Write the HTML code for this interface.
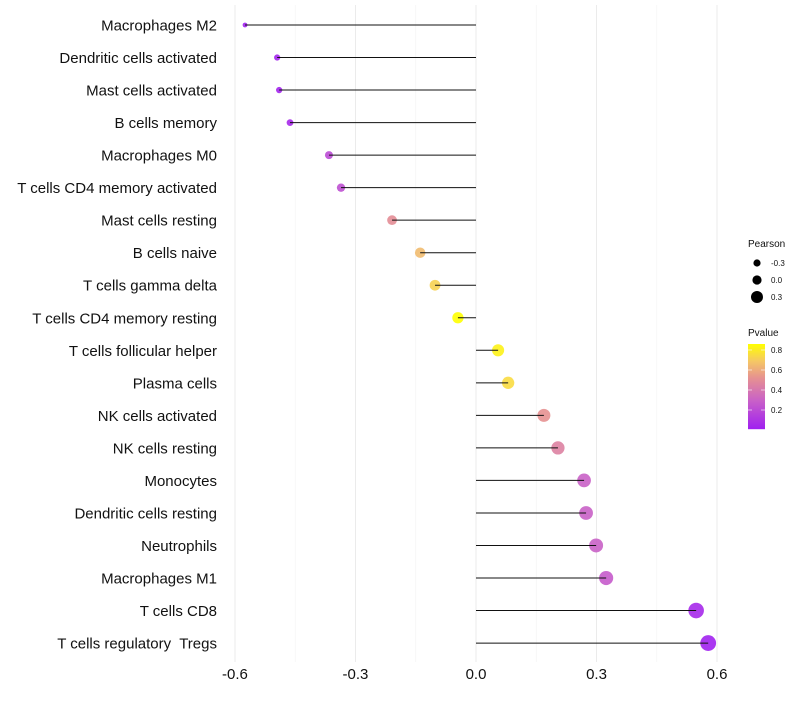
<!DOCTYPE html>
<html><head><meta charset="utf-8"><style>
body{margin:0;background:#fff;font-family:"Liberation Sans",sans-serif}
text{white-space:pre}
</style></head><body>
<svg id="chart" width="800" height="700" xmlns="http://www.w3.org/2000/svg"></svg>
<script>
const categories=["Macrophages M2","Dendritic cells activated","Mast cells activated","B cells memory","Macrophages M0","T cells CD4 memory activated","Mast cells resting","B cells naive","T cells gamma delta","T cells CD4 memory resting","T cells follicular helper","Plasma cells","NK cells activated","NK cells resting","Monocytes","Dendritic cells resting","Neutrophils","Macrophages M1","T cells CD8","T cells regulatory  Tregs"];
const pearson=[-0.575,-0.495,-0.49,-0.463,-0.366,-0.336,-0.209,-0.139,-0.102,-0.045,0.055,0.08,0.169,0.204,0.269,0.274,0.299,0.324,0.548,0.578];
const pvalue=[0.02,0.03,0.03,0.05,0.2,0.22,0.5,0.65,0.72,0.86,0.82,0.75,0.52,0.45,0.3,0.3,0.3,0.27,0.05,0.02];
const xTicks=[-0.6,-0.3,0.0,0.3,0.6];
const xTickLabels=["-0.6","-0.3","0.0","0.3","0.6"];
const legendSizes=[-0.3,0.0,0.3];
const legendP=[0.8,0.6,0.4,0.2];

const svg=document.getElementById('chart');
const NS="http://www.w3.org/2000/svg";
function el(t,a){const e=document.createElementNS(NS,t);for(const k in a)e.setAttribute(k,a[k]);svg.appendChild(e);return e;}
const x=v=>476+v*401.7;
const y=i=>25+i*32.53;
const r=v=>Math.sqrt(Math.max(2,34+49*v));
const pMin=0.01,pMax=0.86;
const stops=[[0,[160,32,240]],[0.33,[200,96,200]],[0.6,[230,145,145]],[0.8,[245,200,100]],[1,[255,255,0]]];
function col(p){let t=Math.max(0,Math.min(1,(p-pMin)/(pMax-pMin)));for(let i=1;i<stops.length;i++){if(t<=stops[i][0]){const a=stops[i-1],b=stops[i];const f=(t-a[0])/(b[0]-a[0]);const c=a[1].map((v,j)=>Math.round(v+(b[1][j]-v)*f));return `rgb(${c})`;}}return 'rgb(255,255,0)';}

for(let i=0;i<xTicks.length;i++){
  const g=el('line',{x1:x(xTicks[i]),x2:x(xTicks[i]),y1:5,y2:662,stroke:'#ebebeb','stroke-width':1});
  
  
  if(i<xTicks.length-1){const m=(xTicks[i]+xTicks[i+1])/2;
  const g2=el('line',{x1:x(m),x2:x(m),y1:5,y2:662,stroke:'#f3f3f3','stroke-width':0.6});
  
  }
  const t=el('text',{x:x(xTicks[i]),y:679,'text-anchor':'middle','font-size':15,fill:'#111'});
  t.textContent=xTickLabels[i];
  
  
}
categories.forEach((c,i)=>{
  const t=el('text',{x:217,y:y(i)+5.5,'text-anchor':'end','font-size':15,fill:'#111'});
  t.textContent=c;
  
  
  const p=el('circle',{cx:x(pearson[i]),cy:y(i),r:r(pearson[i]),fill:col(pvalue[i]),'fill-opacity':0.9});
  
  
  const l=el('line',{x1:x(0),x2:x(pearson[i]),y1:y(i),y2:y(i),stroke:'#111','stroke-width':1});
  
  
});
let t=el('text',{x:748,y:247,'font-size':10,fill:'#111'});t.textContent='Pearson';


const lr=[3.6,4.6,6];
legendSizes.forEach((s,i)=>{
  const cy=263+i*17;
  const c=el('circle',{cx:757,cy:cy,r:lr[i],fill:'#000'});
  
  
  const tt=el('text',{x:771,y:cy+3,'font-size':8,fill:'#111'});tt.textContent=s.toFixed(1);
  
  
});
t=el('text',{x:748,y:336,'font-size':10,fill:'#111'});t.textContent='Pvalue';


const py=p=>344+(pMax-p)/(pMax-pMin)*85;
for(let k=0;k<85;k++){const p=pMax-(k+0.5)/85*(pMax-pMin);
  const rr=el('rect',{x:748,y:344+k,width:17,height:1.2,fill:col(p)});
  
  }
legendP.forEach(p=>{
  const tt=el('text',{x:771,y:py(p)+3,'font-size':8,fill:'#111'});tt.textContent=p.toFixed(1);
  
  
  el('line',{x1:748,x2:752,y1:py(p),y2:py(p),stroke:'#fff','stroke-width':0.6});
  el('line',{x1:761,x2:765,y1:py(p),y2:py(p),stroke:'#fff','stroke-width':0.6});
});
</script>
</body></html>
